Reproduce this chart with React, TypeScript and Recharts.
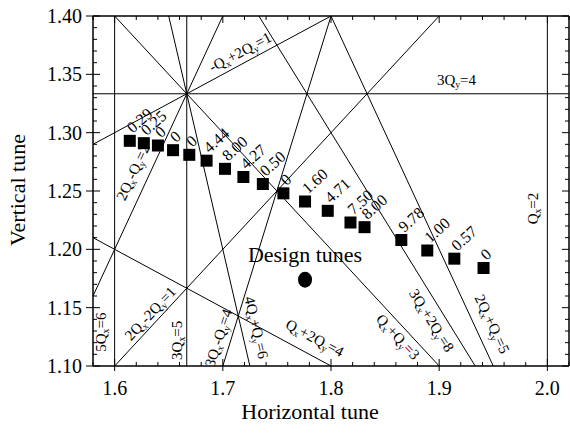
import React from 'react';
import { ScatterChart, Scatter, XAxis, YAxis, ReferenceLine, Label } from 'recharts';

const X_MIN = 1.58;
const X_MAX = 2.02;
const Y_MIN = 1.1;
const Y_MAX = 1.4;

const xMajorTicks = [1.6, 1.7, 1.8, 1.9, 2.0];
const xTickLabels = ['1.6', '1.7', '1.8', '1.9', '2.0'];
const xMinorTicks = [1.58, 1.62, 1.64, 1.66, 1.68, 1.72, 1.74, 1.76, 1.78, 1.82, 1.84, 1.86, 1.88, 1.92, 1.94, 1.96, 1.98, 2.02];

const yMajorTicks = [1.1, 1.15, 1.2, 1.25, 1.3, 1.35, 1.4];
const yTickLabels = ['1.10', '1.15', '1.20', '1.25', '1.30', '1.35', '1.40'];
const yMinorTicks = [
  1.11, 1.12, 1.13, 1.14, 1.16, 1.17, 1.18, 1.19, 1.21, 1.22, 1.23, 1.24,
  1.26, 1.27, 1.28, 1.29, 1.31, 1.32, 1.33, 1.34, 1.36, 1.37, 1.38, 1.39,
];

// measured working points
const tuneQx = [1.614, 1.627, 1.640, 1.654, 1.669, 1.685, 1.702, 1.719, 1.737, 1.756, 1.776, 1.797, 1.818, 1.831, 1.865, 1.889, 1.914, 1.941];
const tuneQy = [1.293, 1.291, 1.289, 1.285, 1.281, 1.276, 1.269, 1.262, 1.256, 1.248, 1.241, 1.233, 1.223, 1.219, 1.208, 1.199, 1.192, 1.184];
const tuneLabels = ['0.29', '0.25', '0', '0', '0', '4.44', '8.00', '4.27', '0.50', '0', '1.60', '4.71', '7.50', '8.00', '9.78', '1.00', '0.57', '0'];

const designQx = [1.776];
const designQy = [1.174];

// resonance lines a*Qx + b*Qy = c
const resonances: [number, number, number][] = [
  [5, 0, 8], [3, 0, 5], [1, 0, 2], [0, 3, 4],
  [-1, 2, 1], [2, -1, 2], [2, -2, 1], [1, 2, 4],
  [3, -1, 4], [4, 1, 8], [1, 1, 3], [3, 2, 8], [2, 1, 5],
];

const resonanceLabels = ['-Q_x+2Q_y=1', '3Q_y=4', 'Q_x=2', '2Q_x-Q_y=2', '2Q_x-2Q_y=1', '5Q_x=6', '3Q_x=5', '3Q_x-Q_y=4', '4Q_x+Q_y=6', 'Q_x+2Q_y=4', 'Q_x+Q_y=3', '3Q_x+2Q_y=8', '2Q_x+Q_y=5'];
const resonanceLabelQx = [1.716, 1.916, 1.987, 1.617, 1.633, 1.587, 1.658, 1.696, 1.731, 1.785, 1.862, 1.893, 1.949];
const resonanceLabelQy = [1.369, 1.345, 1.235, 1.266, 1.145, 1.129, 1.122, 1.124, 1.133, 1.124, 1.125, 1.139, 1.136];
const resonanceLabelAngle = [-28, 0, -90, -65, -47, -90, -90, -72, 77, 28, 47, 58, 65];

const FONT = "'Liberation Serif', 'Times New Roman', serif";
const PLOT_W = 476;
const PLOT_H = 350;

const clipLine = ([a, b, c]: [number, number, number]) => {
  if (b === 0) {
    const x = c / a;
    return [{ x, y: Y_MIN }, { x, y: Y_MAX }];
  }
  if (a === 0) {
    const y = c / b;
    return [{ x: X_MIN, y }, { x: X_MAX, y }];
  }
  const xa = (c - b * Y_MIN) / a;
  const xb = (c - b * Y_MAX) / a;
  const lo = Math.max(X_MIN, Math.min(xa, xb));
  const hi = Math.min(X_MAX, Math.max(xa, xb));
  const f = (x: number) => (c - a * x) / b;
  return [{ x: lo, y: f(lo) }, { x: hi, y: f(hi) }];
};

const formula = (s: string, size: number) => {
  const parts = s.split(/(_[xy])/).filter(Boolean);
  let sub = false;
  return parts.map((p, i) => {
    if (p.startsWith('_')) {
      sub = true;
      return <tspan key={i} fontSize={size * 0.65} dy={4}>{p[1]}</tspan>;
    }
    const dy = sub ? -4 : 0;
    sub = false;
    return <tspan key={i} dy={dy}>{p}</tspan>;
  });
};

const XTick = ({ x, y, payload }: any) => {
  const i = xMajorTicks.indexOf(payload.value);
  const len = i >= 0 ? 7 : 4;
  return (
    <g>
      <line x1={x} x2={x} y1={y} y2={y - len} stroke="#000" />
      <line x1={x} x2={x} y1={y - PLOT_H} y2={y - PLOT_H + len} stroke="#000" />
      {i >= 0 && <line x1={x} x2={x} y1={y} y2={y + 5} stroke="#000" />}
      {i >= 0 && (
        <text x={x} y={y + 29} textAnchor="middle" fontSize={20} fill="#000" fontFamily={FONT}>
          {xTickLabels[i]}
        </text>
      )}
    </g>
  );
};

const YTick = ({ x, y, payload }: any) => {
  const i = yMajorTicks.indexOf(payload.value);
  const len = i >= 0 ? 7 : 4;
  return (
    <g>
      <line x1={x} x2={x + len} y1={y} y2={y} stroke="#000" />
      <line x1={x + PLOT_W} x2={x + PLOT_W - len} y1={y} y2={y} stroke="#000" />
      {i >= 0 && <line x1={x} x2={x - 7} y1={y} y2={y} stroke="#000" />}
      {i >= 0 && (
        <text x={x - 11} y={y + 7} textAnchor="end" fontSize={20} fill="#000" fontFamily={FONT}>
          {yTickLabels[i]}
        </text>
      )}
    </g>
  );
};

const TuneShape = (props: any) => {
  const { cx, cy, payload } = props;
  const tx = cx + 3;
  const ty = cy - 7;
  return (
    <g>
      <rect x={cx - 6} y={cy - 6} width={12} height={12} fill="#000" />
      <text x={tx} y={ty} fontSize={16} fill="#000" fontFamily={FONT} transform={`rotate(-42, ${tx}, ${ty})`}>
        {payload.label}
      </text>
    </g>
  );
};

const DesignShape = (props: any) => {
  const { cx, cy } = props;
  return (
    <g>
      <ellipse cx={cx} cy={cy} rx={7} ry={8} fill="#000" />
      <text x={cx} y={cy - 18} textAnchor="middle" fontSize={22} fill="#000" fontFamily={FONT}>
        Design tunes
      </text>
    </g>
  );
};

const ResonanceText = (props: any) => {
  const { cx, cy, payload } = props;
  return (
    <text
      x={cx}
      y={cy}
      textAnchor="middle"
      dominantBaseline="central"
      fontSize={15}
      fill="#000"
      fontFamily={FONT}
      transform={`rotate(${payload.angle}, ${cx}, ${cy})`}
    >
      {formula(payload.text, 15)}
    </text>
  );
};

export default function App() {
  const tunes = tuneQx.map((x, i) => ({ x, y: tuneQy[i], label: tuneLabels[i] }));
  const design = designQx.map((x, i) => ({ x, y: designQy[i] }));
  const resLabels = resonanceLabels.map((text, i) => ({
    x: resonanceLabelQx[i],
    y: resonanceLabelQy[i],
    text,
    angle: resonanceLabelAngle[i],
  }));

  return (
    <div style={{ position: 'absolute', left: 0, top: 0, width: 570, height: 434, background: '#fff' }}>
      <ScatterChart
        width={570}
        height={434}
        margin={{ top: 16, right: 1, left: 33, bottom: 20 }}
        style={{ fontFamily: FONT }}
      >
        <XAxis
          type="number"
          dataKey="x"
          domain={[X_MIN, X_MAX]}
          allowDataOverflow
          ticks={[...xMinorTicks, ...xMajorTicks].sort((a, b) => a - b)}
          interval={0}
          tickSize={0}
          tickMargin={0}
          tickLine={false}
          tick={(p: any) => <XTick {...p} />}
          axisLine={{ stroke: '#000', strokeWidth: 1.5 }}
          height={48}
        >
          <Label
            content={() => (
              <text x={310} y={419} textAnchor="middle" fontSize={22} fill="#000" fontFamily={FONT}>
                Horizontal tune
              </text>
            )}
          />
        </XAxis>
        <YAxis
          type="number"
          dataKey="y"
          domain={[Y_MIN, Y_MAX]}
          allowDataOverflow
          ticks={[...yMinorTicks, ...yMajorTicks].sort((a, b) => a - b)}
          interval={0}
          tickSize={0}
          tickMargin={0}
          tickLine={false}
          tick={(p: any) => <YTick {...p} />}
          axisLine={{ stroke: '#000', strokeWidth: 1.5 }}
          width={60}
        >
          <Label
            content={() => (
              <text x={25} y={190} textAnchor="middle" fontSize={22} fill="#000" fontFamily={FONT} transform="rotate(-90, 25, 190)">
                Vertical tune
              </text>
            )}
          />
        </YAxis>
        {resonances.map((r, i) => (
          <ReferenceLine key={`res-${i}`} segment={clipLine(r)} ifOverflow="visible" stroke="#000" strokeWidth={1} />
        ))}
        <ReferenceLine y={Y_MAX} ifOverflow="visible" stroke="#000" strokeWidth={1.5} />
        <ReferenceLine x={X_MAX} ifOverflow="visible" stroke="#000" strokeWidth={1.5} />
        <Scatter data={resLabels} shape={ResonanceText} isAnimationActive={false} />
        <Scatter data={tunes} shape={TuneShape} isAnimationActive={false} />
        <Scatter data={design} shape={DesignShape} isAnimationActive={false} />
      </ScatterChart>
    </div>
  );
}
